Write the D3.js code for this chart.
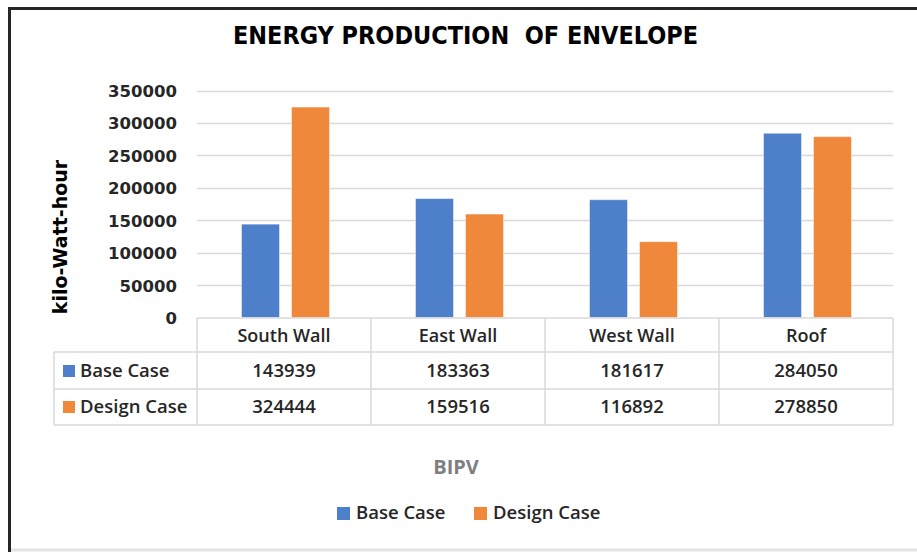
<!DOCTYPE html>
<html>
<head>
<meta charset="utf-8">
<script src="https://cdn.jsdelivr.net/npm/d3@7"></script>
<style>
  html, body { margin: 0; padding: 0; background: #fff; }
  svg { display: block; }
</style>
</head>
<body>
<svg id="chart" width="917" height="552"></svg>
<script>
// ---- data ----
const categories = ["South Wall", "East Wall", "West Wall", "Roof"];
const seriesNames = ["Base Case", "Design Case"];
const baseCase = [143939, 183363, 181617, 284050];
const designCase = [324444, 159516, 116892, 278850];
const yTicks = [0, 50000, 100000, 150000, 200000, 250000, 300000, 350000];
const colors = ["#4e7fcb", "#f0883b"];
const seriesValues = [baseCase, designCase];

const svg = d3.select("#chart");
const W = 917, H = 552;
const tableFont = "'Open Sans', 'Noto Sans', sans-serif";
const tickFont = "'DejaVu Sans', Verdana, sans-serif";

// frame
svg.append("rect").attr("width", W).attr("height", H).attr("fill", "#fff");
svg.append("line").attr("x1", 9.5).attr("x2", 9.5).attr("y1", 7).attr("y2", H)
  .attr("stroke", "#262626").attr("stroke-width", 3);
svg.append("line").attr("x1", 8).attr("x2", W).attr("y1", 8.5).attr("y2", 8.5)
  .attr("stroke", "#262626").attr("stroke-width", 3);

// bottom spreadsheet strip
svg.append("line").attr("x1", 11).attr("x2", W).attr("y1", 550).attr("y2", 550)
  .attr("stroke", "#e3e3e3").attr("stroke-width", 3);

// scales
const plotLeft = 197, plotRight = 893;
const y = d3.scaleLinear().domain([0, 350000]).range([317.5, 90.5]);
const x0 = d3.scaleBand().domain(categories).range([plotLeft, plotRight]).padding(0);
const x1 = d3.scaleBand().domain(seriesNames).range([44.5, 132.5]).paddingInner(0.24).paddingOuter(0);

// gridlines
const grid = svg.append("g");
grid.selectAll("line").data(yTicks.filter(d => d > 0)).join("line")
  .attr("x1", plotLeft).attr("x2", plotRight)
  .attr("y1", d => Math.round(y(d)) + 0.5).attr("y2", d => Math.round(y(d)) + 0.5)
  .attr("stroke", "#d9d9d9").attr("stroke-width", 1.5);

// y axis via d3.axisLeft (labels only)
const yAxis = svg.append("g").attr("transform", `translate(177,0)`)
  .call(d3.axisLeft(y).tickValues(yTicks).tickSize(0).tickPadding(0).tickFormat(d3.format("d")));
yAxis.select(".domain").remove();
yAxis.selectAll("text")
  .attr("font-family", tickFont).attr("font-weight", "bold").attr("font-size", "16.5px")
  .attr("fill", "#262626").attr("dy", "0.36em");

// bars
const groups = svg.append("g").selectAll("g").data(categories).join("g")
  .attr("transform", d => `translate(${x0(d)},0)`);
groups.selectAll("rect").data((d, i) => seriesNames.map((s, j) => ({ s, v: seriesValues[j][i], j })))
  .join("rect")
  .attr("x", d => x1(d.s))
  .attr("width", x1.bandwidth())
  .attr("y", d => y(d.v))
  .attr("height", d => y(0) - y(d.v))
  .attr("fill", d => colors[d.j])
  .attr("stroke", "#ffffff").attr("stroke-opacity", 0.45).attr("stroke-width", 1);

// data table
const tableLeft = 54;
const rowY = [318, 352, 389, 425];
const lineColor = "#d9d9d9";
const tbl = svg.append("g").attr("stroke", lineColor).attr("stroke-width", 1.5);
tbl.append("line").attr("x1", plotLeft).attr("x2", plotRight).attr("y1", rowY[0]).attr("y2", rowY[0]);
[rowY[1], rowY[2], rowY[3]].forEach(yy =>
  tbl.append("line").attr("x1", tableLeft).attr("x2", plotRight).attr("y1", yy).attr("y2", yy));
tbl.append("line").attr("x1", tableLeft).attr("x2", tableLeft).attr("y1", rowY[1]).attr("y2", rowY[3]);
const colEdges = categories.map(c => x0(c)).concat([plotRight]);
colEdges.forEach(xx =>
  tbl.append("line").attr("x1", xx).attr("x2", xx).attr("y1", rowY[0]).attr("y2", rowY[3]));

// category labels
svg.append("g").selectAll("text").data(categories).join("text")
  .attr("x", d => x0(d) + x0.bandwidth() / 2).attr("y", 342)
  .attr("text-anchor", "middle")
  .attr("font-family", tableFont).attr("font-weight", 600).attr("font-size", "18px")
  .attr("fill", "#262626").text(d => d);

// values rows
const valueBaselines = [377, 413];
seriesNames.forEach((s, j) => {
  svg.append("g").selectAll("text").data(seriesValues[j]).join("text")
    .attr("x", (d, i) => x0(categories[i]) + x0.bandwidth() / 2).attr("y", valueBaselines[j])
    .attr("text-anchor", "middle")
    .attr("font-family", tableFont).attr("font-weight", 600).attr("font-size", "18.5px")
    .attr("fill", "#262626").text(d => d);
  svg.append("rect").attr("x", 63).attr("y", valueBaselines[j] - 12).attr("width", 12).attr("height", 12)
    .attr("fill", colors[j]);
  svg.append("text").attr("x", 80).attr("y", valueBaselines[j])
    .attr("font-family", tableFont).attr("font-weight", 600).attr("font-size", "18.5px")
    .attr("fill", "#262626").text(s);
});

// title
svg.append("text").attr("x", 465.5).attr("y", 43.5).attr("text-anchor", "middle")
  .attr("font-family", "'Liberation Sans Narrow', 'DejaVu Sans Condensed', sans-serif")
  .attr("font-weight", "bold").attr("font-size", "25px").attr("fill", "#000")
  .attr("textLength", 465).attr("lengthAdjust", "spacingAndGlyphs")
  .style("white-space", "pre")
  .text("ENERGY PRODUCTION  OF ENVELOPE");

// y axis title
svg.append("text").attr("transform", "translate(67,237) rotate(-90)")
  .attr("text-anchor", "middle")
  .attr("font-family", tickFont).attr("font-weight", "bold").attr("font-size", "19px")
  .attr("fill", "#000").text("kilo-Watt-hour");

// x axis title
svg.append("text").attr("x", 456).attr("y", 474).attr("text-anchor", "middle")
  .attr("font-family", tableFont).attr("font-weight", "bold").attr("font-size", "20px")
  .attr("fill", "#7f7f7f").text("BIPV");

// legend
const legendItems = [{ s: seriesNames[0], x: 337 }, { s: seriesNames[1], x: 474 }];
legendItems.forEach((d, j) => {
  svg.append("rect").attr("x", d.x).attr("y", 507).attr("width", 13).attr("height", 13).attr("fill", colors[j]);
  svg.append("text").attr("x", d.x + 19).attr("y", 519)
    .attr("font-family", tableFont).attr("font-weight", 600).attr("font-size", "18.5px")
    .attr("fill", "#262626").text(d.s);
});
</script>
</body>
</html>
